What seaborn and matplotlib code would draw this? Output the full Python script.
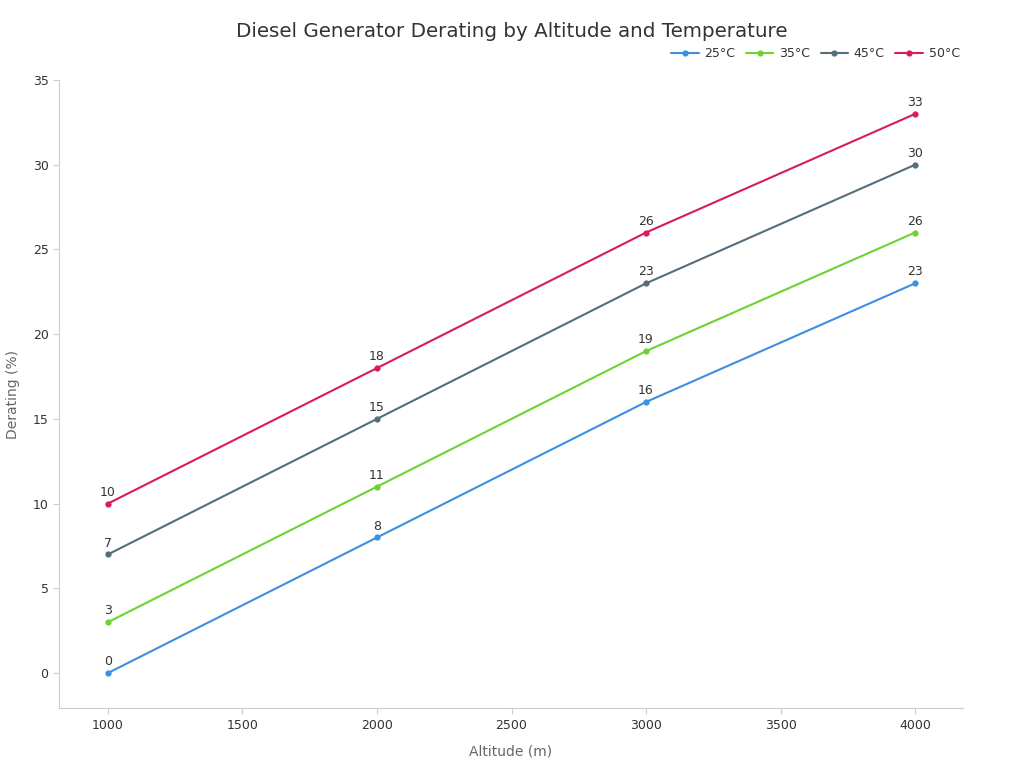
import pandas as pd
import matplotlib
matplotlib.use("Agg")
import matplotlib.pyplot as plt
import seaborn as sns

# ---------- DATA ----------
altitudes = [1000, 2000, 3000, 4000]
temps = ["25°C", "35°C", "45°C", "50°C"]
derating_25 = [0, 8, 16, 23]
derating_35 = [3, 11, 19, 26]
derating_45 = [7, 15, 23, 30]
derating_50 = [10, 18, 26, 33]
colors = ["#3d8fe0", "#6dd332", "#546e7a", "#d81b60"]

rows = []
for t, vals in zip(temps, [derating_25, derating_35, derating_45, derating_50]):
    for a, v in zip(altitudes, vals):
        rows.append({"Altitude": a, "Derating": v, "Temp": t})
df = pd.DataFrame(rows)

# ---------- PLOT ----------
sns.set_theme(style="white")
plt.rcParams['font.family'] = ['DejaVu Sans']

fig = plt.figure(figsize=(10.24, 7.68), dpi=100)
ax = fig.add_axes([0.0576, 0.078, 0.8828, 0.8178])

sns.lineplot(data=df, x="Altitude", y="Derating", hue="Temp", palette=colors,
             marker="o", markersize=4.5, markeredgewidth=0, linewidth=1.5, ax=ax)

for t, c in zip(temps, colors):
    sub = df[df["Temp"] == t]
    for a, v in zip(sub["Altitude"], sub["Derating"]):
        ax.annotate(str(v), (a, v), xytext=(0, 3.5), textcoords="offset points",
                    ha="center", va="bottom", fontsize=9, color="#333333")

ax.set_xlim(818, 4178)
ax.set_ylim(-2.07, 35)
ax.set_xticks([1000, 1500, 2000, 2500, 3000, 3500, 4000])
ax.set_yticks([0, 5, 10, 15, 20, 25, 30, 35])
ax.tick_params(axis="both", length=4, width=0.8, color="#cccccc",
               labelsize=9, labelcolor="#333333", bottom=True, left=True)

for side in ["top", "right"]:
    ax.spines[side].set_visible(False)
for side in ["left", "bottom"]:
    ax.spines[side].set_color("#cccccc")
    ax.spines[side].set_linewidth(0.8)

ax.set_xlabel("Altitude (m)", fontsize=10, color="#666666", labelpad=9)
ax.set_ylabel("Derating (%)", fontsize=10, color="#666666", labelpad=9)

fig.suptitle("Diesel Generator Derating by Altitude and Temperature",
             fontsize=14.3, color="#333333", x=0.5, y=0.972)

leg = ax.legend(loc="lower right", bbox_to_anchor=(1.006, 1.018), ncol=4, frameon=False,
                fontsize=9, handlelength=2.2, columnspacing=0.85, handletextpad=0.45,
                borderaxespad=0.3)
for txt in leg.get_texts():
    txt.set_color("#333333")

fig.savefig("out.png", dpi=100)
